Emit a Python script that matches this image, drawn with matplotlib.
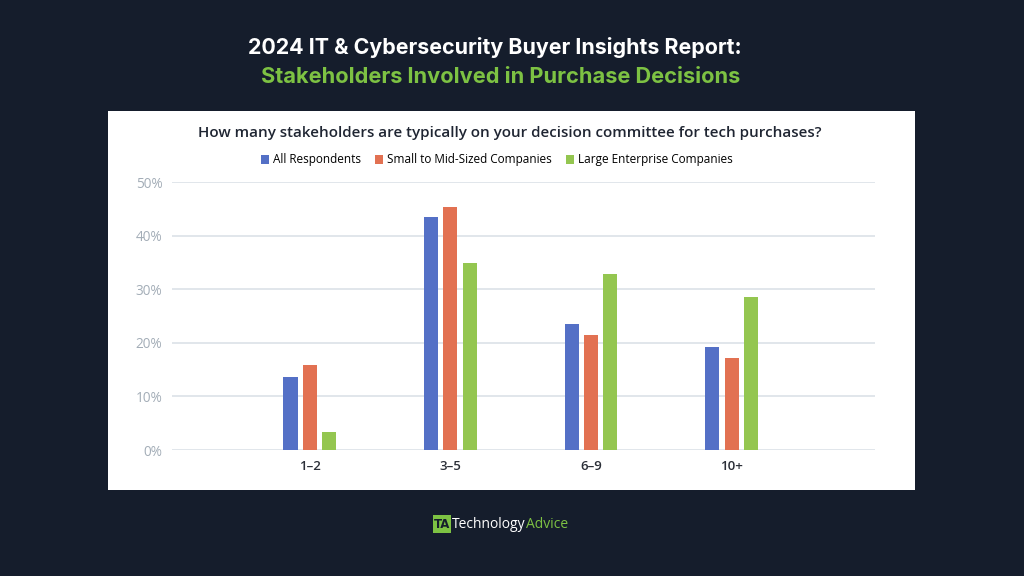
import matplotlib
matplotlib.use("Agg")
import matplotlib.pyplot as plt
from matplotlib.patches import Rectangle, Patch
import numpy as np

categories = ["1–2", "3–5", "6–9", "10+"]
series_names = ["All Respondents", "Small to Mid-Sized Companies", "Large Enterprise Companies"]
all_resp = [13.6, 43.6, 23.5, 19.2]
smb = [15.9, 45.4, 21.4, 17.1]
enterprise = [3.3, 34.9, 32.9, 28.5]
y_ticks = [0, 10, 20, 30, 40, 50]
y_tick_labels = ["0%", "10%", "20%", "30%", "40%", "50%"]

BG = "#151d2c"
GREEN_TXT = "#7dc243"
colors = ["#5470c6", "#e27152", "#94c650"]

fig = plt.figure(figsize=(10.24, 5.76), dpi=100, facecolor=BG)

# white panel
panel = Rectangle((108/1024, 1-490/576), (915-108)/1024, (490-111)/576,
                  transform=fig.transFigure, facecolor="white", edgecolor="none", zorder=-5)
fig.patches.append(panel)

# titles
fig.text(0.4835, 1-48/576, "2024 IT & Cybersecurity Buyer Insights Report:", color="white",
         fontsize=15.4, fontweight="bold", family="Inter", ha="center", va="center")
fig.text(0.489, 1-77/576, "Stakeholders Involved in Purchase Decisions", color=GREEN_TXT,
         fontsize=15.7, fontweight="bold", family="Inter", ha="center", va="center")

ax = fig.add_axes([172/1024, 1-450/576, 703/1024, (450-182.3)/576])
ax.set_zorder(2)
ax.set_facecolor("none")
x = np.arange(len(categories))
off = 0.137
w = 0.1
for i, (vals, c, name) in enumerate(zip([all_resp, smb, enterprise], colors, series_names)):
    ax.bar(x + (i-1)*off, vals, width=w, color=c, label=name, zorder=3)

ax.set_xlim(-0.98, 4.02)
ax.set_ylim(0, 50)
ax.set_yticks(y_ticks)
ax.set_yticklabels(y_tick_labels, color="#a3adb7", fontsize=9.8, family="Open Sans")
ax.set_xticks(x)
ax.set_xticklabels(categories, color="#2b2f38", fontsize=9.5, family="Open Sans", fontweight="semibold")
ax.tick_params(length=0, pad=7)
ax.tick_params(axis="y", pad=7)
ax.grid(axis="y", color="#dbe1e7", linewidth=1.2, zorder=0)
for s in ax.spines.values():
    s.set_visible(False)

fig.text(0.4975, 1-133/576, "How many stakeholders are typically on your decision committee for tech purchases?",
         color="#1f2532", fontsize=10.9, fontweight="semibold", family="Open Sans", ha="center", va="center")

handles = [Patch(facecolor=c, edgecolor="none") for c in colors]
fig.legend(handles, series_names, loc="center", bbox_to_anchor=(0.485, 1-160/576), ncol=3,
           frameon=False, handlelength=0.7, handleheight=0.7, handletextpad=0.3,
           columnspacing=1.2, prop={"family": "Open Sans", "size": 8.5})

# logo
fig.patches.append(Rectangle((433/1024, 1-533/576), 18/1024, 18/576, transform=fig.transFigure,
                             facecolor=GREEN_TXT, edgecolor="none"))
fig.text(442/1024, 1-524.5/576, "TA", color=BG, fontsize=8.5, fontweight="bold", ha="center", va="center")
t1 = fig.text(452/1024, 1-524/576, "Technology", color="white", fontsize=10, family="Open Sans",
              ha="left", va="center")
fig.canvas.draw()
bb = t1.get_window_extent()
fig.text(bb.x1/1024, 1-524/576, "Advice", color=GREEN_TXT, fontsize=10, family="Open Sans",
         ha="left", va="center")

fig.savefig("out.png", dpi=100, facecolor=BG)
